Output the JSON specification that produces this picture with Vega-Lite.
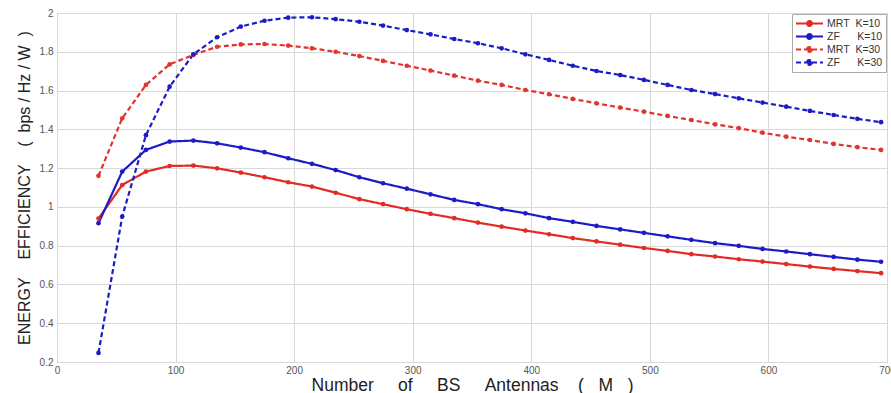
{
  "$schema": "https://vega.github.io/schema/vega-lite/v6.json",
  "width": 830,
  "height": 349,
  "autosize": "none",
  "padding": {"left": 57, "top": 13, "right": 4, "bottom": 31},
  "background": "white",
  "config": {
    "font": "Liberation Sans",
    "view": {"stroke": "#8a8a8a", "strokeWidth": 1},
    "axis": {
      "grid": true,
      "gridColor": "#d9d9d9",
      "gridWidth": 1,
      "domain": false,
      "tickSize": 0,
      "labelFlush": false,
      "labelColor": "#555",
      "labelFontSize": 10,
      "titleFontSize": 17.5,
      "titleFontWeight": "normal",
      "titleColor": "#222"
    }
  },
  "data": {
    "values": [
      {"M": 35, "MRT K=10": 0.94, "ZF K=10": 0.916, "MRT K=30": 1.16, "ZF K=30": 0.247},
      {"M": 55, "MRT K=10": 1.113, "ZF K=10": 1.182, "MRT K=30": 1.457, "ZF K=30": 0.95},
      {"M": 75, "MRT K=10": 1.182, "ZF K=10": 1.294, "MRT K=30": 1.629, "ZF K=30": 1.37},
      {"M": 95, "MRT K=10": 1.211, "ZF K=10": 1.337, "MRT K=30": 1.735, "ZF K=30": 1.62},
      {"M": 115, "MRT K=10": 1.213, "ZF K=10": 1.342, "MRT K=30": 1.784, "ZF K=30": 1.787},
      {"M": 135, "MRT K=10": 1.199, "ZF K=10": 1.328, "MRT K=30": 1.826, "ZF K=30": 1.875},
      {"M": 155, "MRT K=10": 1.177, "ZF K=10": 1.306, "MRT K=30": 1.838, "ZF K=30": 1.93},
      {"M": 175, "MRT K=10": 1.153, "ZF K=10": 1.282, "MRT K=30": 1.84, "ZF K=30": 1.96},
      {"M": 195, "MRT K=10": 1.127, "ZF K=10": 1.251, "MRT K=30": 1.832, "ZF K=30": 1.976},
      {"M": 215, "MRT K=10": 1.105, "ZF K=10": 1.222, "MRT K=30": 1.818, "ZF K=30": 1.978},
      {"M": 235, "MRT K=10": 1.073, "ZF K=10": 1.19, "MRT K=30": 1.8, "ZF K=30": 1.968},
      {"M": 255, "MRT K=10": 1.04, "ZF K=10": 1.153, "MRT K=30": 1.778, "ZF K=30": 1.955},
      {"M": 275, "MRT K=10": 1.014, "ZF K=10": 1.122, "MRT K=30": 1.753, "ZF K=30": 1.935},
      {"M": 295, "MRT K=10": 0.988, "ZF K=10": 1.094, "MRT K=30": 1.728, "ZF K=30": 1.912},
      {"M": 315, "MRT K=10": 0.964, "ZF K=10": 1.065, "MRT K=30": 1.703, "ZF K=30": 1.89},
      {"M": 335, "MRT K=10": 0.942, "ZF K=10": 1.036, "MRT K=30": 1.677, "ZF K=30": 1.866},
      {"M": 355, "MRT K=10": 0.919, "ZF K=10": 1.014, "MRT K=30": 1.651, "ZF K=30": 1.844},
      {"M": 375, "MRT K=10": 0.898, "ZF K=10": 0.988, "MRT K=30": 1.629, "ZF K=30": 1.818},
      {"M": 395, "MRT K=10": 0.878, "ZF K=10": 0.967, "MRT K=30": 1.603, "ZF K=30": 1.787},
      {"M": 415, "MRT K=10": 0.859, "ZF K=10": 0.942, "MRT K=30": 1.581, "ZF K=30": 1.758},
      {"M": 435, "MRT K=10": 0.839, "ZF K=10": 0.923, "MRT K=30": 1.557, "ZF K=30": 1.728},
      {"M": 455, "MRT K=10": 0.822, "ZF K=10": 0.902, "MRT K=30": 1.534, "ZF K=30": 1.701},
      {"M": 475, "MRT K=10": 0.805, "ZF K=10": 0.884, "MRT K=30": 1.512, "ZF K=30": 1.68},
      {"M": 495, "MRT K=10": 0.788, "ZF K=10": 0.866, "MRT K=30": 1.491, "ZF K=30": 1.655},
      {"M": 515, "MRT K=10": 0.773, "ZF K=10": 0.848, "MRT K=30": 1.469, "ZF K=30": 1.629},
      {"M": 535, "MRT K=10": 0.756, "ZF K=10": 0.83, "MRT K=30": 1.448, "ZF K=30": 1.603},
      {"M": 555, "MRT K=10": 0.744, "ZF K=10": 0.813, "MRT K=30": 1.426, "ZF K=30": 1.582},
      {"M": 575, "MRT K=10": 0.73, "ZF K=10": 0.799, "MRT K=30": 1.406, "ZF K=30": 1.56},
      {"M": 595, "MRT K=10": 0.718, "ZF K=10": 0.783, "MRT K=30": 1.383, "ZF K=30": 1.538},
      {"M": 615, "MRT K=10": 0.705, "ZF K=10": 0.77, "MRT K=30": 1.362, "ZF K=30": 1.517},
      {"M": 635, "MRT K=10": 0.692, "ZF K=10": 0.756, "MRT K=30": 1.345, "ZF K=30": 1.495},
      {"M": 655, "MRT K=10": 0.68, "ZF K=10": 0.742, "MRT K=30": 1.325, "ZF K=30": 1.474},
      {"M": 675, "MRT K=10": 0.669, "ZF K=10": 0.728, "MRT K=30": 1.308, "ZF K=30": 1.454},
      {"M": 695, "MRT K=10": 0.658, "ZF K=10": 0.717, "MRT K=30": 1.294, "ZF K=30": 1.437}
    ]
  },
  "transform": [
    {"fold": ["MRT K=10", "ZF K=10", "MRT K=30", "ZF K=30"], "as": ["series", "EE"]}
  ],
  "mark": {"type": "line", "strokeWidth": 2.2, "point": {"filled": true, "size": 22}},
  "encoding": {
    "x": {
      "field": "M",
      "type": "quantitative",
      "scale": {"domain": [0, 700], "nice": false},
      "axis": {
        "values": [0, 100, 200, 300, 400, 500, 600, 700],
        "labelPadding": 3,
        "titlePadding": 1,
        "title": "Number\u00a0\u00a0\u00a0\u00a0\u00a0of\u00a0\u00a0\u00a0\u00a0\u00a0BS\u00a0\u00a0\u00a0\u00a0\u00a0Antennas\u00a0\u00a0\u00a0\u00a0(\u00a0\u00a0\u00a0M\u00a0\u00a0\u00a0)"
      }
    },
    "y": {
      "field": "EE",
      "type": "quantitative",
      "scale": {"domain": [0.2, 2], "nice": false, "zero": false},
      "axis": {
        "values": [0.2, 0.4, 0.6, 0.8, 1, 1.2, 1.4, 1.6, 1.8, 2],
        "format": "~g",
        "labelPadding": 4,
        "titlePadding": 7,
        "titleFontSize": 16,
        "title": "ENERGY\u00a0\u00a0\u00a0\u00a0EFFICIENCY\u00a0\u00a0\u00a0\u00a0(\u00a0\u00a0bps\u00a0/\u00a0Hz\u00a0/\u00a0W\u00a0\u00a0)"
      }
    },
    "color": {
      "field": "series",
      "type": "nominal",
      "scale": {
        "domain": ["MRT K=10", "ZF K=10", "MRT K=30", "ZF K=30"],
        "range": ["#e22b25", "#1c1cc6", "#e0352e", "#1c1cc6"]
      },
      "legend": {
        "title": null,
        "orient": "top-right",
        "offset": 1,
        "padding": 3,
        "fillColor": "white",
        "strokeColor": "#aaaaaa",
        "symbolType": "M-1,0L1,0M-0.18,0A0.18,0.18,0,1,1,0.18,0A0.18,0.18,0,1,1,-0.18,0",
        "symbolSize": 729,
        "symbolStrokeWidth": 2,
        "clipHeight": 13,
        "rowPadding": 0,
        "labelFontSize": 10.5,
        "labelColor": "#333",
        "labelOffset": 3,
        "labelExpr": "replace(replace(datum.label, 'ZF ', 'ZF\u00a0\u00a0\u00a0\u00a0\u00a0\u00a0'), 'MRT ', 'MRT\u00a0\u00a0')",
        "encode": {"symbols": {"update": {"fill": {"scale": "color", "field": "value"}}}}
      }
    },
    "strokeDash": {
      "field": "series",
      "type": "nominal",
      "scale": {
        "domain": ["MRT K=10", "ZF K=10", "MRT K=30", "ZF K=30"],
        "range": [[1, 0], [1, 0], [5, 3], [5, 3]]
      },
      "legend": {
        "title": null,
        "orient": "top-right",
        "offset": 1,
        "padding": 3,
        "fillColor": "white",
        "strokeColor": "#aaaaaa",
        "symbolType": "M-1,0L1,0M-0.18,0A0.18,0.18,0,1,1,0.18,0A0.18,0.18,0,1,1,-0.18,0",
        "symbolSize": 729,
        "symbolStrokeWidth": 2,
        "clipHeight": 13,
        "rowPadding": 0,
        "labelFontSize": 10.5,
        "labelColor": "#333",
        "labelOffset": 3,
        "labelExpr": "replace(replace(datum.label, 'ZF ', 'ZF\u00a0\u00a0\u00a0\u00a0\u00a0\u00a0'), 'MRT ', 'MRT\u00a0\u00a0')",
        "encode": {"symbols": {"update": {"fill": {"scale": "color", "field": "value"}}}}
      }
    }
  }
}
